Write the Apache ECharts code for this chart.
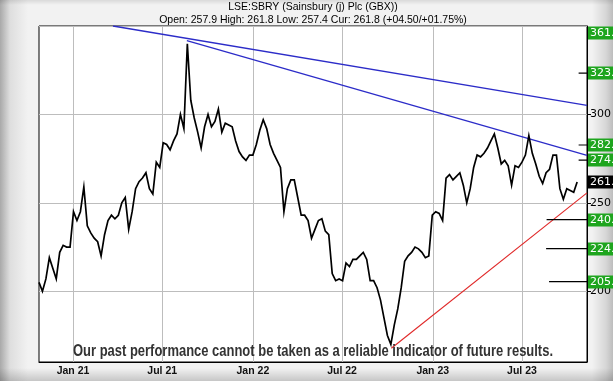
<!DOCTYPE html>
<html><head><meta charset="utf-8">
<script src="https://cdn.jsdelivr.net/npm/echarts@6/dist/echarts.min.js"></script>
<style>
html,body{margin:0;padding:0;}
#c{width:613px;height:381px;
background:
 linear-gradient(to bottom, rgba(0,0,0,0.10) 0px, rgba(0,0,0,0) 5px, rgba(0,0,0,0) 368px, rgba(0,0,0,0.18) 381px),
 linear-gradient(to right, #a9a9a9 0px, #dedede 10px, #f2f2f2 28px, #f2f2f2 592px, #d6d6d6 606px, #bdbdbd 613px);}
</style>
</head><body><div id="c"></div>
<script>
// ---- data ----
const titleText = 'LSE:SBRY (Sainsbury (j) Plc (GBX))';
const subText = 'Open: 257.9 High: 261.8 Low: 257.4 Cur: 261.8 (+04.50/+01.75%)';
const disclaimer = 'Our past performance cannot be taken as a reliable indicator of future results.';
const axisStart = '2020-10-24';
const axisEnd = '2023-11-10';
const priceStart = '2020-10-24';   // weekly readings, one every 7 days
const weeklyPrice = [
 205,200,207,219,213,207,222,226,225,225,
 245,240,245,259,237,233,230,228,220,232,
 240,243,241,243,250,253,235,
 245,258,262,264,267,258,255,273,270,284,
 283,280,285,289,300,292,340,308,298,290,
 281,293,300,293,296,303,290,
 295,294,293,285,279,276,274,277,277,283,
 291,297,292,283,278,274,270,245,258,263,
 263,253,243,243,240,230,235,
 240,241,234,232,210,206,207,206,216,214,
 218,218,220,222,218,206,206,202,195,185,
 175,170,181,190,202,217,
 220,222,225,224,222,219,220,243,245,
 244,240,264,266,263,265,267,260,250,
 258,270,277,276,278,281,285,289,281,
 272,274,271,260,271,270,273,277,288,
 278,272,265,261,267,269,277,277,258,
 252,258,257,256,261.8
];
const blueUpperDates = ['2021-03-23','2023-11-10'];
const blueUpperValues = [350, 305.1];
const blueLowerDates = ['2021-08-20','2023-11-10'];
const blueLowerValues = [341.7, 276.8];
const redDates = ['2022-10-09','2023-11-10'];
const redValues = [167.8, 255.6];
const targetLevels = [240.5, 224.1, 205.4];
const targetStarts = ['2023-08-20','2023-08-19','2023-08-25'];
const tickLevels = [323.4, 282.7, 274.1];
const tickStart = '2023-10-24';
const greenLabels = [361.0, 323.4, 282.7, 274.1, 240.5, 224.1, 205.4];
const currentLabel = 261.8;
const monthNames = {'01':'Jan','07':'Jul'};

// ---- build ----
function addDays(s, n){const d=new Date(s+'T00:00:00Z');d.setUTCDate(d.getUTCDate()+n);return d.toISOString().slice(0,10);}
const days=[];
for(let d=axisStart; d<=axisEnd; d=addDays(d,1)) days.push(d);
const priceData = weeklyPrice.map((v,i)=>[addDays(priceStart,7*i), v]);
const isHalf = (idx, val)=> /-(01|07)-01$/.test(val);

const lineS = (name, dates, vals, color, w) => ({
  type:'line', name, data: dates.map((d,i)=>[d, vals[i]]), showSymbol:false, symbol:'none',
  lineStyle:{color, width:w}, silent:true, animation:false, z:3
});

const series = [
  {type:'line', name:'price', data: priceData, showSymbol:false, symbol:'none',
   lineStyle:{color:'#000', width:1.7, join:'miter'}, animation:false, z:4},
  lineS('blue1', blueUpperDates, blueUpperValues, '#2c2cc8', 1.3),
  lineS('blue2', blueLowerDates, blueLowerValues, '#2c2cc8', 1.3),
  lineS('red', redDates, redValues, '#e02828', 1.1),
];
targetLevels.forEach((v,i)=>series.push(lineS('t'+i,[targetStarts[i],axisEnd],[v,v],'#000',1.3)));
tickLevels.forEach((v,i)=>series.push(lineS('k'+i,[tickStart,axisEnd],[v,v],'#000',1.2)));

const chart = echarts.init(document.getElementById('c'));
chart.setOption({
  animation:false,
  backgroundColor:'transparent',
  grid:{left:39, top:26, right:26, bottom:19, show:true, backgroundColor:'#fff', borderColor:'#000', borderWidth:1, outerBoundsMode:'none', containLabel:false},
  xAxis:[{
    type:'category', data:days, boundaryGap:false,
    axisLine:{show:true, lineStyle:{color:'#000', width:1}},
    axisTick:{show:false},
    axisLabel:{interval:isHalf, margin:4, color:'#111', fontSize:10.5, fontWeight:'bold', fontFamily:'Liberation Sans',
      formatter:(v)=>monthNames[v.slice(5,7)]+' '+v.slice(2,4)},
    splitLine:{show:true, interval:isHalf, lineStyle:{color:'#bdbdbd', width:1}}
  }],
  yAxis:[{
    type:'value', position:'right', min:160, max:350, splitNumber:4,
    axisLine:{show:true, lineStyle:{color:'#000'}},
    axisTick:{show:true, length:4, lineStyle:{color:'#000'}},
    axisLabel:{showMinLabel:false, showMaxLabel:false, margin:3, color:'#000', fontSize:11, fontFamily:'DejaVu Sans'},
    splitLine:{show:true, lineStyle:{color:'#bdbdbd'}}
  }],
  series
});

const plotTop=26, plotBot=362;
const els=[];
els.push({type:'text', x:313, y:7, z:100, style:{text:titleText, font:'10.5px "Liberation Sans"', fill:'#000', align:'center', verticalAlign:'middle'}});
els.push({type:'text', x:313, y:20, z:100, style:{text:subText, font:'10.5px "Liberation Sans"', fill:'#000', align:'center', verticalAlign:'middle'}});
// disclaimer, condensed by horizontal scaling
const cv=document.createElement('canvas').getContext('2d');
const dFont='bold 16px "Liberation Sans"';
cv.font=dFont;
const dw=cv.measureText(disclaimer).width;
els.push({type:'text', x:313, y:352, scaleX:480/dw, z:100, style:{text:disclaimer, font:dFont, fill:'#333', align:'center', verticalAlign:'middle'}});
function boxLabel(v, bg){
  let y=chart.convertToPixel({yAxisIndex:0}, v);
  y=Math.max(plotTop+7, Math.min(plotBot-7, y));
  els.push({type:'rect', z:100, shape:{x:588, y:Math.round(y)-6.5, width:30, height:13}, style:{fill:bg}});
  els.push({type:'text', z:101, x:590, y:Math.round(y)+0.5, style:{text:v.toFixed(1), font:'11px "DejaVu Sans"', fill:'#fff', align:'left', verticalAlign:'middle'}});
}
greenLabels.forEach(v=>boxLabel(v,'#1ea51e'));
boxLabel(currentLabel,'#000');
chart.setOption({graphic:{elements:els}});
</script>
</body></html>
